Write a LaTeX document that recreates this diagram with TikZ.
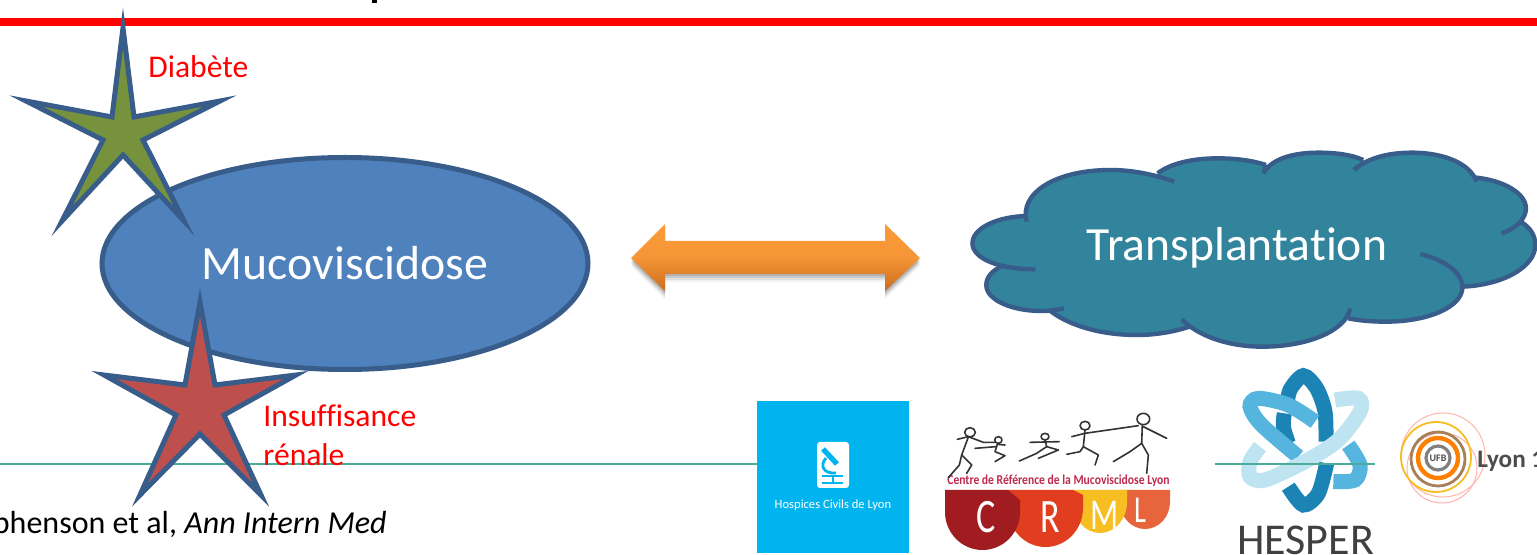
\documentclass[tikz,border=0pt]{standalone}
\usepackage{fontspec}
\setmainfont[Ligatures=NoCommon]{Carlito}
\usetikzlibrary{shapes.geometric}
\definecolor{edgeblue}{HTML}{385D8A}
\definecolor{mucoblue}{HTML}{4F81BD}
\definecolor{stargreen}{HTML}{76923C}
\definecolor{starred}{HTML}{BD4F4D}
\definecolor{cloudteal}{HTML}{31849B}
\definecolor{ruleteal}{HTML}{4BAC9A}
\definecolor{hclblue}{HTML}{00B5EF}
\definecolor{crmlA}{HTML}{A01C20}
\definecolor{crmlB}{HTML}{E03E1F}
\definecolor{crmlC}{HTML}{F7BE22}
\definecolor{crmlD}{HTML}{E8643C}
\definecolor{crmltext}{HTML}{BE2A50}
\definecolor{hespA}{HTML}{1C84B4}
\definecolor{hespB}{HTML}{55B5DE}
\definecolor{hespC}{HTML}{BEE3F1}
\definecolor{arrowtop}{HTML}{FB9A38}
\definecolor{arrowbot}{HTML}{C96C1E}
\tikzset{
  starshape/.style={draw=edgeblue,line width=2.5pt,miter limit=40,line join=miter},
  cloudline/.style={draw=edgeblue,line width=2.2pt},
  stick/.style={draw=black!80,line width=0.8pt,line cap=round,line join=round},
  hesp/.style={line width=7.5pt},
  redtext/.style={text=red,inner sep=0pt,anchor=base west},
}
\newcommand{\lobeA}{(205,275) .. controls (185,190) and (280,120) .. (430,120) .. controls (490,120) and (550,135) .. (600,155)}
\newcommand{\lobeB}{(555,130) .. controls (590,100) and (650,85) .. (715,85) .. controls (765,85) and (810,92) .. (845,105)}
\newcommand{\lobeC}{(838,130) .. controls (860,85) and (920,68) .. (985,68) .. controls (1035,68) and (1075,75) .. (1105,90)}
\newcommand{\lobeD}{(1080,120) .. controls (1115,85) and (1170,68) .. (1235,68) .. controls (1320,68) and (1390,100) .. (1408,155)}
\newcommand{\lobeE}{(1400,142) .. controls (1480,150) and (1540,190) .. (1540,235) .. controls (1540,265) and (1515,295) .. (1475,310)}
\newcommand{\lobeF}{(1525,275) .. controls (1550,290) and (1565,315) .. (1565,345) .. controls (1565,410) and (1480,465) .. (1370,470)}
\newcommand{\lobeG}{(1258,372) .. controls (1320,390) and (1370,425) .. (1370,472) .. controls (1370,530) and (1280,575) .. (1165,575) .. controls (1130,575) and (1095,572) .. (1065,565)}
\newcommand{\lobeH}{(1070,535) .. controls (1060,600) and (960,650) .. (835,650) .. controls (740,650) and (660,615) .. (620,568)}
\newcommand{\lobeI}{(640,590) .. controls (600,605) and (550,615) .. (500,615) .. controls (400,615) and (315,585) .. (265,540)}
\newcommand{\lobeJ}{(305,535) .. controls (285,540) and (265,543) .. (245,543) .. controls (165,543) and (97,510) .. (97,465) .. controls (97,440) and (115,420) .. (140,408)}
\newcommand{\lobeK}{(228,418) .. controls (130,418) and (60,385) .. (60,340) .. controls (60,295) and (125,260) .. (205,258)}
\newcommand{\arrowoutline}{(631,258) -- (665,224) -- (665,241) -- (885,241) -- (885,224) -- (920,258) -- (885,291) -- (885,274) -- (665,274) -- (665,291) -- cycle}
\begin{document}
\begin{tikzpicture}[x=0.5pt,y=-0.5pt]
\path[use as bounding box,clip] (0,0) rectangle (1537,555);
\fill[white] (0,0) rectangle (1537,555);
% title fragment and rules
\fill[black] (372,0) rectangle (377,3);
\fill[red] (0,18) rectangle (1537,26);
\draw[ruleteal,line width=1pt] (0,464) -- (757,464);
% ellipse
\node[ellipse,draw=edgeblue,fill=mucoblue,line width=2.5pt,minimum width=243pt,minimum height=106pt,inner sep=0pt,text=white,font=\fontsize{23.9}{28}\selectfont] (muco) at (345,263.5) {Mucoviscidose};
% stars
\draw[starshape,fill=stargreen] (123,28) -- (134,117) -- (220,101) -- (143,140) -- (184,221) -- (123,155) -- (62,221) -- (103,140) -- (26,101) -- (112,117) -- cycle;
\draw[starshape,fill=starred] (200,302) -- (215,385) -- (296,375) -- (224,415) -- (261,495) -- (200,434) -- (140,495) -- (176,415) -- (104,375) -- (185,385) -- cycle;
\node[redtext,font=\fontsize{15.8}{19}\selectfont] (diabete) at (148,78) {Diabète};
\node[redtext,font=\fontsize{15.8}{19.5}\selectfont,align=left,anchor=north west] (renale) at (263,404) {Insuffisance\\rénale};
\node[inner sep=0pt,anchor=base east,text=black,font=\fontsize{16}{18}\selectfont] (cite) at (387,533) {phenson et al, \textit{Ann Intern Med}};
% double arrow
\foreach \o/\a in {8/0.05,6/0.07,4/0.10,2/0.12}{
  \fill[black,opacity=\a,shift={(0,\o)}] \arrowoutline;
}
\shade[top color=arrowtop,bottom color=arrowbot,middle color=arrowtop!90!arrowbot] \arrowoutline;
% cloud
\begin{scope}[shift={(950,130)},x=0.187pt,y=-0.16667pt]
  \fill[cloudteal] (200,262) -- (430,122) -- (555,132) -- (715,88) -- (845,108) -- (985,72) -- (1100,92) -- (1235,72) -- (1405,145) -- (1535,235) -- (1525,278) -- (1560,345) -- (1370,468) -- (1165,572) -- (1065,565) -- (835,646) -- (640,590) -- (500,612) -- (265,540) -- (100,465) -- (140,408) -- (64,340) -- cycle;
  \foreach \l in {\lobeA,\lobeB,\lobeC,\lobeD,\lobeE,\lobeF,\lobeG,\lobeH,\lobeI,\lobeJ,\lobeK}{
    \fill[cloudteal] \l;
  }
  \foreach \l in {\lobeA,\lobeB,\lobeC,\lobeD,\lobeE,\lobeF,\lobeG,\lobeH,\lobeI,\lobeJ,\lobeK}{
    \draw[cloudline] \l;
  }
  \draw[cloudline] (845,105) -- (838,130);
\end{scope}
\node[inner sep=0pt,anchor=base,text=white,font=\fontsize{23.8}{28}\selectfont] (transplant) at (1237,261) {Transplantation};
% HCL logo
\fill[hclblue] (757,401) rectangle (909,553);
\fill[white,rounded corners=1.5pt] (817,442) rectangle (849,488);
\draw[hclblue,line width=2.6pt] (823,449) -- (837,464);
\draw[hclblue,line width=1.4pt] (826,458) .. controls (819,466) and (824,474) .. (836,473);
\draw[hclblue,line width=1.1pt] (822,476) -- (843,476);
\draw[hclblue,line width=1.1pt] (822,483) -- (843,483);
\draw[hclblue,line width=1.1pt] (833,476) -- (833,483);
\node[inner sep=0pt,text=white,font=\fontsize{6.3}{8}\selectfont] (hcl) at (833,505) {Hospices Civils de Lyon};
% CRML logo
\fill[crmlD] (1120,490) -- (1120,502) arc[start angle=180,end angle=0,x radius=25,y radius=27] -- (1170,490) -- cycle;
\fill[crmlC] (1073,490) -- (1073,502) arc[start angle=180,end angle=0,x radius=27,y radius=31] -- (1127,490) -- cycle;
\fill[crmlB] (1008,490) -- (1008,508) arc[start angle=180,end angle=0,x radius=37.5,y radius=39] -- (1083,495) -- (1073,490) -- cycle;
\fill[crmlA] (945,490) -- (945,512) arc[start angle=180,end angle=0,x radius=37.5,y radius=38] -- (1020,500) -- (1008,490) -- cycle;
\node[inner sep=0pt,text=white,font=\fontsize{24}{28}\selectfont] (crmlc) at (986,517) {\scalebox{0.75}[1]{C}};
\node[inner sep=0pt,text=white,font=\fontsize{24}{28}\selectfont] (crmlr) at (1050,517) {\scalebox{0.75}[1]{R}};
\node[inner sep=0pt,text=white,font=\fontsize{22}{26}\selectfont] (crmlm) at (1105,515) {\scalebox{0.75}[1]{M}};
\node[inner sep=0pt,text=white,font=\fontsize{19}{22}\selectfont] (crmll) at (1140,510) {\scalebox{0.75}[1]{L}};
\node[inner sep=0pt,anchor=base,text=crmltext,font=\bfseries\fontsize{6.8}{8}\selectfont] (crmlt) at (1058.5,485) {\scalebox{0.855}[1]{Centre de Référence de la Mucoviscidose Lyon}};
\begin{scope}[shift={(940,405)},x=0.16667pt,y=-0.16667pt]
  % figure 1
  \draw[stick] (90,82) ellipse[x radius=16,y radius=14];
  \draw[stick] (52,103) -- (85,95) -- (130,112) -- (165,112);
  \draw[stick] (85,96) -- (65,150) -- (95,180) -- (80,205);
  \draw[stick] (65,150) -- (58,180) -- (25,218);
  % figure 2
  \draw[stick] (175,105) ellipse[x radius=11,y radius=10];
  \draw[stick] (173,115) -- (165,140) -- (195,152) -- (165,170);
  \draw[stick] (105,130) -- (168,125);
  \draw[stick] (172,118) -- (195,120);
  % figure 3
  \draw[stick] (315,95) ellipse[x radius=12,y radius=10];
  \draw[stick] (270,112) -- (358,110);
  \draw[stick] (315,105) -- (320,125) -- (290,145) -- (238,168);
  \draw[stick] (320,125) -- (355,135) -- (295,160);
  % figure 4
  \draw[stick] (435,62) ellipse[x radius=15,y radius=13];
  \draw[stick] (395,95) -- (435,85) -- (595,62);
  \draw[stick] (435,75) -- (430,125) -- (420,140) -- (380,148);
  \draw[stick] (430,125) -- (475,150) -- (465,180);
  % figure 5
  \draw[stick] (610,42) ellipse[x radius=19,y radius=17];
  \draw[stick] (607,59) -- (605,115) -- (570,140) -- (520,170);
  \draw[stick] (605,115) -- (625,150) -- (620,205);
  \draw[stick] (610,65) -- (680,100);
\end{scope}
% HESPER logo
\begin{scope}[shift={(1225,365)},x=0.16667pt,y=-0.16667pt]
  \draw[hesp,hespA] plot[smooth] coordinates {(185,130) (195,75) (235,32) (275,70) (300,140) (303,230)};
  \draw[hesp,hespA] plot[smooth] coordinates {(178,145) (175,185) (190,235)};
  \draw[hesp,hespA] plot[smooth] coordinates {(190,365) (235,420) (280,385) (305,295)};
  \draw[hesp,hespB] plot[smooth] coordinates {(270,170) (190,120) (100,100) (75,125) (110,180) (220,275)};
  \draw[hesp,hespB] plot[smooth] coordinates {(370,240) (405,300) (390,345) (325,350)};
  \draw[hesp,hespC] plot[smooth] coordinates {(330,105) (400,100) (405,140) (340,225) (240,290) (120,345) (75,335) (75,290) (105,245)};
\end{scope}
\draw[ruleteal,line width=1pt] (1215,464) -- (1375,464);
\node[inner sep=0pt,anchor=base,text=black!75,font=\fontsize{22}{26}\selectfont] (hesper) at (1305.5,554) {HESPER};
% Lyon 1 logo
\draw[orange!40!red!35,line width=0.5pt] (1443,455) circle[radius=21pt];
\draw[red!30,line width=0.5pt] (1442,468) circle[radius=17.5pt];
\draw[crmlC,line width=0.9pt] (1436,457) circle[radius=17.5pt];
\draw[brown!60!gray,line width=1.4pt] (1438,459) circle[radius=13.5pt];
\draw[orange,line width=2.2pt] (1438,458) circle[radius=10pt];
\draw[gray,line width=1.6pt] (1438,458) circle[radius=6pt];
\node[inner sep=0pt,text=black!70,font=\bfseries\fontsize{5}{6}\selectfont] (ufb) at (1438,458) {UFB};
\node[inner sep=0pt,anchor=base west,text=black!70,font=\bfseries\fontsize{12.6}{14}\selectfont] (lyon) at (1477,468) {Lyon 1};
\end{tikzpicture}
\end{document}
